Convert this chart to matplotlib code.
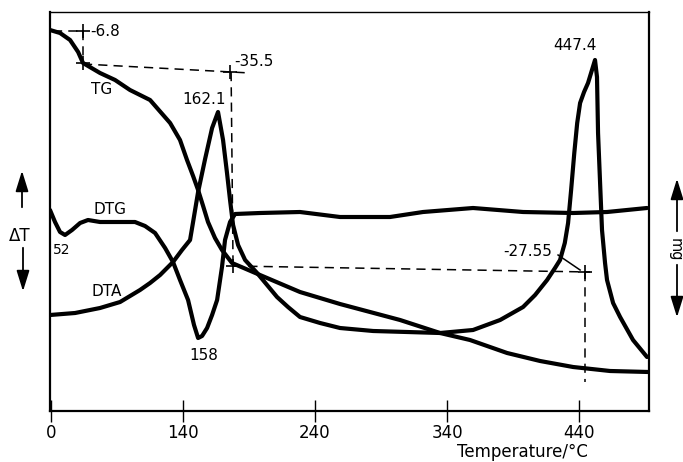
import matplotlib
matplotlib.use("Agg")
import matplotlib.pyplot as plt
from matplotlib.patches import FancyArrowPatch

# ---------------- data (temperature in degC, signal in arbitrary units) -------------
tg_T = [39.2, 46.8, 54.4, 60.5, 64.2, 77.1, 88.5, 99.8, 115.0, 130.2, 137.7, 143.0,
        147.6, 151.4, 155.2, 158.9, 164.2, 169.5, 177.1, 198.3, 228.6, 258.9, 304.4,
        334.7, 357.4, 385.5, 410.5, 435.5, 463.5, 493.0]
tg_y = [381, 378, 371, 359, 348, 338, 331, 321, 311, 288, 271, 251,
        235, 221, 205, 189, 173, 161, 148, 136, 119, 107, 91,
        78, 71, 58, 50, 44, 40, 39]

dta_T = [39.2, 58.2, 77.1, 92.3, 107.4, 115.0, 122.6, 132.4, 139.2, 145.3, 147.6,
         151.4, 156.7, 162.0, 166.5, 170.3, 173.3, 175.6, 177.9, 181.7, 187.0, 196.1,
         211.2, 219.5, 228.6, 243.8, 258.9, 284.0, 309.7, 334.7, 359.7, 380.2, 397.6,
         406.7, 415.8, 421.8, 425.6, 429.2, 431.7, 434.0, 436.4, 438.6, 440.8, 443.8,
         446.8, 449.8, 452.1, 453.6, 454.4, 457.4, 459.7, 461.2, 465.8, 471.1, 480.9,
         491.5]
dta_y = [96, 98, 103, 109, 121, 128, 136, 149, 161, 171, 189,
         219, 252, 283, 299, 271, 238, 211, 186, 166, 151, 138,
         114, 104, 94, 88, 83, 80, 79, 78, 81, 91, 104,
         116, 131, 143, 151, 168, 188, 221, 258, 288, 308, 319,
         328, 341, 351, 334, 278, 181, 148, 131, 108, 94, 71,
         54]

dtg_T = [39.2, 43.0, 46.8, 50.6, 55.9, 62.0, 68.0, 77.1, 92.3, 103.6, 111.2, 118.8,
         126.4, 132.4, 137.7, 143.8, 148.3, 151.4, 154.4, 158.2, 162.0, 165.8, 169.5,
         171.8, 175.6, 179.4, 198.3, 228.6, 258.9, 296.8, 321.8, 359.7, 397.6, 435.5,
         461.2, 491.5]
dtg_y = [201, 189, 179, 176, 181, 188, 191, 189, 189, 189, 185, 178,
         163, 149, 131, 111, 86, 73, 75, 83, 96, 111, 144,
         171, 189, 197, 198, 199, 194, 194, 199, 203, 199, 198,
         199, 203]

tick_pos = [40, 140, 240, 340, 440]
tick_labels = ["0", "140", "240", "340", "440"]

# annotation construction lines
dash1_T, dash1_y = [41.5, 64.2], [380, 380]
dash2_T, dash2_y = [64.2, 64.2], [380, 348]
dash3_T, dash3_y = [64.2, 190.8], [347, 338]
dash4_T, dash4_y = [176.4, 177.9], [339, 143]
dash5_T, dash5_y = [177.9, 448.3], [145, 139]
dash6_T, dash6_y = [444.5, 444.5], [139, 29]
cross_T = [64.2, 64.2, 175.6, 177.9, 444.5]
cross_y = [380, 348, 339, 145, 139]

# ---------------- figure ----------------
W, H = 683, 462
fig = plt.figure(figsize=(W / 100, H / 100), dpi=100)
ax = fig.add_axes([50 / W, (H - 411) / H, 599 / W, 399 / H])
ax.set_xlim(39.2, 493.0)
ax.set_ylim(0, 399)

lw = 3.0
for T, y in [(tg_T, tg_y), (dta_T, dta_y), (dtg_T, dtg_y)]:
    ax.plot(T, y, color="black", lw=lw, solid_joinstyle="round",
            solid_capstyle="round")

dkw = dict(color="black", lw=1.1, dashes=(6, 4))
for T, y in [(dash1_T, dash1_y), (dash2_T, dash2_y), (dash3_T, dash3_y),
             (dash4_T, dash4_y), (dash5_T, dash5_y), (dash6_T, dash6_y)]:
    ax.plot(T, y, **dkw)
ax.plot(cross_T, cross_y, ls="none", marker="+", ms=10, mew=1.2, color="black")
# leader line for -27.55
ax.plot([424.1, 440.8], [156, 141], color="black", lw=1.1)

fs = 11
ax.text(69.5, 380, "-6.8", fontsize=fs, ha="left", va="center")
ax.text(78.6, 321, "TG", fontsize=fs, ha="center", va="center")
ax.text(155.9, 311, "162.1", fontsize=fs, ha="center", va="center")
ax.text(178.6, 349, "-35.5", fontsize=fs, ha="left", va="center")
ax.text(437.0, 366, "447.4", fontsize=fs, ha="center", va="center")
ax.text(84.7, 201, "DTG", fontsize=fs, ha="center", va="center")
ax.text(48.3, 161, "52", fontsize=fs - 1, ha="center", va="center")
ax.text(82.4, 119, "DTA", fontsize=fs, ha="center", va="center")
ax.text(155.9, 56, "158", fontsize=fs, ha="center", va="center")
ax.text(401.4, 159, "-27.55", fontsize=fs, ha="center", va="center")

ax.set_xticks(tick_pos)
ax.set_xticklabels(tick_labels, fontsize=12)
ax.set_yticks([])
ax.tick_params(axis="x", direction="inout", length=16, width=1.0, pad=1)
for s in ["left", "bottom", "right"]:
    ax.spines[s].set_linewidth(1.6)
ax.spines["top"].set_linewidth(1.0)

ax.set_xlabel("Temperature/°C", fontsize=12)
ax.xaxis.set_label_coords(0.788, -0.080)

# side arrows (figure pixel coords)
def fx(px):
    return px / W

def fy(py):
    return 1 - py / H

akw = dict(arrowstyle="-|>,head_length=0.9,head_width=0.28", color="black",
           lw=1.3, mutation_scale=14, transform=fig.transFigure)
fig.patches.append(FancyArrowPatch((fx(22), fy(210)), (fx(22), fy(168)), **akw))
fig.patches.append(FancyArrowPatch((fx(23), fy(245)), (fx(23), fy(294)), **akw))
fig.text(fx(20), fy(236), "ΔT", fontsize=12, ha="center", va="center")
fig.patches.append(FancyArrowPatch((fx(677), fy(234)), (fx(677), fy(176)), **akw))
fig.patches.append(FancyArrowPatch((fx(677), fy(262)), (fx(677), fy(320)), **akw))
fig.text(fx(675), fy(250), "mg", fontsize=10.5, ha="center", va="center", rotation=270)

fig.savefig("out.png", dpi=100)
